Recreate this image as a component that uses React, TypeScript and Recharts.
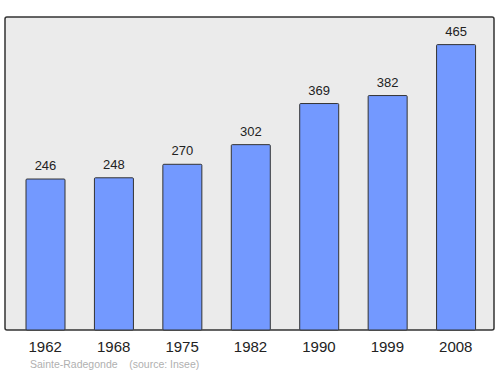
import { Bar, BarChart, LabelList, XAxis, YAxis } from "recharts";

const years = ["1962", "1968", "1975", "1982", "1990", "1999", "2008"];
const population = [246, 248, 270, 302, 369, 382, 465];

const data = years.map((year, i) => ({ year, value: population[i] }));

const font = "'Liberation Sans', Arial, sans-serif";

export default function App() {
  return (
    <div style={{ position: "absolute", left: 0, top: 0, width: 500, height: 374, background: "#fff", fontFamily: font }}>
      <BarChart width={500} height={374} data={data} margin={{ top: 17, right: 6, left: 5, bottom: 0 }}>
        <rect x={5} y={17} width={489} height={313} rx={2} fill="#ebebeb" stroke="#333" strokeWidth={1.5} />
        <XAxis
          dataKey="year"
          height={44}
          axisLine={false}
          tickLine={false}
          tickSize={0}
          tickMargin={11}
          padding={{ left: 6, right: 4 }}
          interval={0}
          tick={{ fill: "#222", fontSize: 15, fontFamily: font }}
        />
        <YAxis hide domain={[0, 510]} />
        <Bar
          dataKey="value"
          fill="#7399ff"
          stroke="#333"
          strokeWidth={1}
          barSize={39}
          radius={1}
          isAnimationActive={false}
        >
          <LabelList dataKey="value" position="top" offset={9} fill="#222" fontSize={13} fontFamily={font} />
        </Bar>
      </BarChart>
      <div
        style={{
          position: "absolute",
          left: 30,
          top: 358,
          fontSize: 10.5,
          color: "#b0b0b0",
          whiteSpace: "pre",
          fontFamily: font,
        }}
      >
        {"Sainte-Radegonde    (source: Insee)"}
      </div>
    </div>
  );
}
